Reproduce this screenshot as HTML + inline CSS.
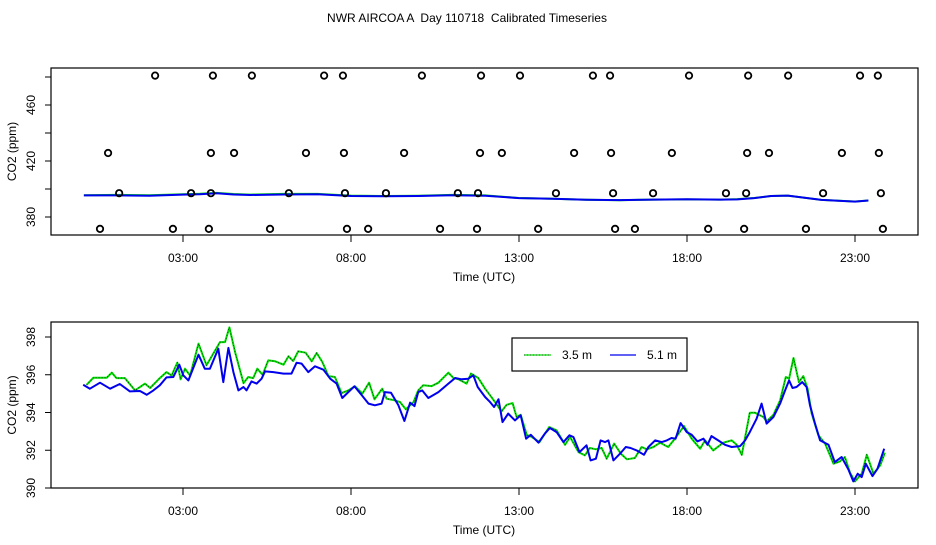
<!DOCTYPE html>
<html><head><meta charset="utf-8"><style>
body{margin:0;background:#fff;}
svg text{font-family:"Liberation Sans",Arial,sans-serif;font-size:12px;fill:#000;white-space:pre;}
</style></head><body>
<svg id="chart" width="936" height="540" viewBox="0 0 936 540" xmlns="http://www.w3.org/2000/svg">
<rect width="936" height="540" fill="#fff"/>
<text x="467" y="22" text-anchor="middle" xml:space="preserve">NWR AIRCOA A  Day 110718  Calibrated Timeseries</text>
<g id="top"></g>
<g id="bot"></g>
</svg>
<script>
// ---- data ----
const xTickHours = [3, 8, 13, 18, 23];
const xTickLabels = ["03:00", "08:00", "13:00", "18:00", "23:00"];
const topYTicks = [380, 400, 420, 440, 460, 480];
const topYLabels = [380, 420, 460];
const botYTicks = [390, 392, 394, 396, 398];

const circHours481 = [2.17,3.89,5.05,7.20,7.76,10.11,11.87,13.03,15.20,15.71,18.06,19.82,21.01,23.15,23.68];
const circHours426 = [0.77,3.83,4.52,6.66,7.79,9.58,11.84,12.49,14.64,15.74,17.55,19.79,20.44,22.61,23.71];
const circHours397 = [1.10,3.24,3.83,6.15,7.82,9.04,11.18,11.78,14.10,15.80,16.99,19.16,19.76,22.05,23.77];
const circHours371 = [0.53,2.70,3.77,5.59,7.88,8.51,10.65,11.75,13.57,15.86,16.45,18.63,19.70,21.54,23.83];
const circLevels = [481, 425.7, 397, 371.5];

const topHours = [0.05,1,2,3,3.5,4,4.5,5,6,7,8,9,10,11,12,13,14,15,16,17,18,19,19.5,20,20.5,21,22,23,23.4];
const top35 = [395.6,395.8,395.5,396.3,396.6,397.2,396.4,396.0,396.5,396.5,395.3,395.0,395.2,395.8,395.4,393.6,393.0,392.3,392.0,392.4,392.6,392.4,392.8,393.6,395.0,395.3,392.2,391.1,391.8];
const top51 = [395.4,395.4,395.2,396.0,396.3,396.9,396.1,395.7,396.1,396.2,395.0,394.8,395.0,395.6,395.2,393.5,393.0,392.3,392.1,392.4,392.7,392.4,392.6,393.5,395.0,395.3,392.2,391.0,391.8];

const hours35 = [0.13,0.33,0.73,0.88,1.02,1.27,1.57,1.87,2.02,2.31,2.51,2.66,2.83,2.93,3.06,3.21,3.46,3.70,4.10,4.25,4.38,4.55,4.80,4.94,5.09,5.21,5.37,5.54,5.74,5.99,6.14,6.28,6.43,6.65,6.83,6.98,7.15,7.33,7.52,7.72,7.92,8.12,8.34,8.54,8.70,8.93,9.06,9.31,9.46,9.63,9.86,10.00,10.15,10.40,10.60,10.90,11.05,11.20,11.44,11.57,11.79,11.99,12.14,12.29,12.48,12.63,12.81,12.93,13.05,13.23,13.38,13.61,13.90,14.12,14.37,14.52,14.77,14.96,15.11,15.29,15.46,15.61,15.83,16.03,16.21,16.45,16.65,16.80,17.00,17.20,17.44,17.64,17.91,18.14,18.39,18.54,18.78,19.08,19.33,19.48,19.63,19.87,20.02,20.27,20.37,20.57,20.77,20.94,21.04,21.17,21.33,21.46,21.59,21.71,21.91,22.11,22.36,22.55,22.70,22.85,23.00,23.20,23.35,23.55,23.75,23.89];
const co2_35 = [395.47,395.84,395.84,396.11,395.82,395.82,395.17,395.53,395.30,395.82,396.14,395.96,396.64,395.76,396.32,395.96,397.65,396.50,397.73,397.73,398.51,397.20,395.56,395.88,395.82,396.32,396.00,396.76,396.71,396.53,396.98,396.73,397.24,397.17,396.71,397.15,396.67,395.93,395.88,395.03,395.17,395.39,395.00,395.58,394.70,395.26,394.73,394.64,394.55,394.17,394.55,395.17,395.44,395.40,395.58,396.11,395.83,395.76,395.53,396.06,395.83,395.26,394.91,394.55,394.06,394.41,394.50,393.76,393.88,392.82,392.70,392.43,393.23,393.05,392.29,392.70,391.90,391.73,392.12,392.05,392.12,391.55,392.35,391.82,391.52,391.59,392.17,392.05,392.17,392.40,392.17,392.61,393.28,392.61,392.08,392.52,391.99,392.40,392.52,392.29,391.76,393.99,393.99,393.76,393.53,393.88,394.64,395.88,395.79,396.89,395.61,395.93,395.26,393.94,392.79,392.35,391.29,391.41,391.64,390.81,390.35,390.76,391.76,390.76,391.20,391.87];

const hours51 = [0.03,0.23,0.53,0.83,1.12,1.42,1.72,1.92,2.12,2.31,2.51,2.71,2.89,3.01,3.16,3.46,3.65,3.80,4.05,4.20,4.35,4.50,4.65,4.80,4.89,5.04,5.19,5.34,5.44,5.69,5.99,6.23,6.38,6.53,6.73,6.93,7.18,7.38,7.57,7.74,7.92,8.10,8.32,8.52,8.71,8.91,9.01,9.19,9.41,9.59,9.76,9.89,10.00,10.12,10.30,10.60,10.90,11.10,11.29,11.49,11.64,11.77,11.99,12.14,12.26,12.39,12.51,12.68,12.88,13.05,13.21,13.35,13.58,13.77,13.92,14.12,14.32,14.50,14.62,14.80,15.01,15.13,15.29,15.43,15.56,15.66,15.81,16.01,16.18,16.32,16.50,16.72,16.85,17.05,17.25,17.40,17.54,17.66,17.81,17.99,18.14,18.31,18.49,18.61,18.73,18.93,19.13,19.33,19.58,19.73,19.87,20.07,20.22,20.37,20.57,20.77,20.92,21.04,21.14,21.26,21.43,21.56,21.66,21.81,21.96,22.21,22.40,22.60,22.80,22.95,23.08,23.20,23.32,23.52,23.67,23.87];
const co2_51 = [395.47,395.26,395.58,395.26,395.51,395.12,395.14,394.94,395.17,395.44,395.86,395.88,396.53,395.97,395.70,397.06,396.32,396.32,397.38,395.61,397.42,396.14,395.17,395.35,395.17,395.65,395.53,395.79,396.18,396.14,396.06,396.06,396.64,396.59,396.14,396.45,396.27,395.79,395.53,394.77,395.08,395.39,394.91,394.47,394.38,394.47,395.08,395.05,394.38,393.55,394.52,394.34,395.08,395.17,394.77,395.08,395.53,395.83,395.76,395.79,395.97,395.35,394.82,394.55,394.29,394.70,393.49,393.94,393.58,393.85,392.61,392.82,392.40,392.88,393.18,392.96,392.43,392.79,392.70,391.90,392.26,391.46,391.55,392.52,392.43,392.52,391.46,391.82,392.17,392.12,391.99,391.76,392.17,392.52,392.43,392.52,392.65,392.61,393.44,392.96,392.82,392.47,392.61,392.29,392.75,392.52,392.29,392.17,392.22,392.52,392.96,393.67,394.47,393.41,393.76,394.47,395.17,395.70,395.30,395.35,395.61,395.35,394.38,393.41,392.52,392.29,391.37,391.64,390.99,390.35,390.76,390.58,391.29,390.63,391.02,392.08];

// ---- scales ----
const NS = "http://www.w3.org/2000/svg";
const X0 = 51, X1 = 918;
function xS(h){ return 183 + (h - 3) * 33.6; }
function yTop(v){ return 217 - 1.4 * (v - 380); }
function yBot(v){ return 488 - (v - 390) * 18.875; }
function mk(tag, attrs, parent){
  const e = document.createElementNS(NS, tag);
  for (const k in attrs) e.setAttribute(k, attrs[k]);
  parent.appendChild(e); return e;
}
function pathD(hs, vs, yf){ return hs.map((h,i)=>(i?'L':'M')+xS(h).toFixed(1)+','+yf(vs[i]).toFixed(1)).join(''); }

function panel(g, yA, yB, yf, ticks, labels, prefix){
  const box = mk('rect',{x:X0,y:yA,width:X1-X0,height:yB-yA,fill:'none',stroke:'#000','stroke-width':1.2},g);
  
  
  xTickHours.forEach((h,i)=>{
    const t = mk('line',{x1:xS(h),x2:xS(h),y1:yB,y2:yB+7,stroke:'#000'},g);
    
    
    const l = mk('text',{x:xS(h),y:yB+27,'text-anchor':'middle'},g);
    l.textContent = xTickLabels[i];
    
    
  });
  ticks.forEach(v=>{
    const t = mk('line',{x1:X0-6,x2:X0,y1:yf(v),y2:yf(v),stroke:'#000'},g);
    
    
  });
  labels.forEach(v=>{
    const l = mk('text',{x:0,y:0,'text-anchor':'middle',transform:'translate(35,'+yf(v)+') rotate(-90)'},g);
    l.textContent = String(v);
    
    
  });
  const xt = mk('text',{x:484,y:yB+46,'text-anchor':'middle'},g);
  xt.textContent = 'Time (UTC)';
  
  
  const yt = mk('text',{x:0,y:0,'text-anchor':'middle',transform:'translate(16,'+((yA+yB)/2)+') rotate(-90)'},g);
  yt.textContent = 'CO2 (ppm)';
  
  
}
function greenLine(g, hs, vs, yf, name){
  const p = mk('path',{d:pathD(hs,vs,yf),fill:'none',stroke:'#00dd00','stroke-width':2,'stroke-linejoin':'round'},g);
  
  
  const q = mk('path',{d:pathD(hs,vs,yf),fill:'none',stroke:'#000','stroke-width':0.6,'stroke-dasharray':'1,2'},g);
  
  
}
function blueLine(g, hs, vs, yf, name){
  const p = mk('path',{d:pathD(hs,vs,yf),fill:'none',stroke:'#0000ee','stroke-width':2,'stroke-linejoin':'round'},g);
  
  
}

// top panel
const gt = document.getElementById('top');
panel(gt, 68, 235, yTop, topYTicks, topYLabels, 'top');
greenLine(gt, topHours, top35, yTop, 'top-line-3-5m');
blueLine(gt, topHours, top51, yTop, 'top-line-5-1m');
[circHours481, circHours426, circHours397, circHours371].forEach((arr, k)=>{
  arr.forEach(h=>{
    const c = mk('circle',{cx:xS(h),cy:yTop(circLevels[k]),r:3.2,fill:'none',stroke:'#000','stroke-width':1.8},gt);
    
    
  });
});

// bottom panel
const gb = document.getElementById('bot');
panel(gb, 322, 488, yBot, botYTicks, botYTicks, 'bottom');
greenLine(gb, hours35, co2_35, yBot, 'line-3-5m');
blueLine(gb, hours51, co2_51, yBot, 'line-5-1m');

// legend
const lg = mk('g',{},gb);


const lb = mk('rect',{x:512,y:338,width:175,height:33,fill:'#fff',stroke:'#000','stroke-width':1.2},lg);


const l1 = mk('line',{x1:524,x2:551,y1:355,y2:355,stroke:'#00dd00','stroke-width':1.2},lg);


mk('line',{x1:524,x2:551,y1:355,y2:355,stroke:'#000','stroke-width':0.6,'stroke-dasharray':'1,2'},lg);
const t1 = mk('text',{x:562,y:359},lg); t1.textContent='3.5 m';


const l2 = mk('line',{x1:610,x2:636,y1:355,y2:355,stroke:'#0000ee','stroke-width':1.2},lg);


const t2 = mk('text',{x:647,y:359},lg); t2.textContent='5.1 m';


</script>
</body></html>
